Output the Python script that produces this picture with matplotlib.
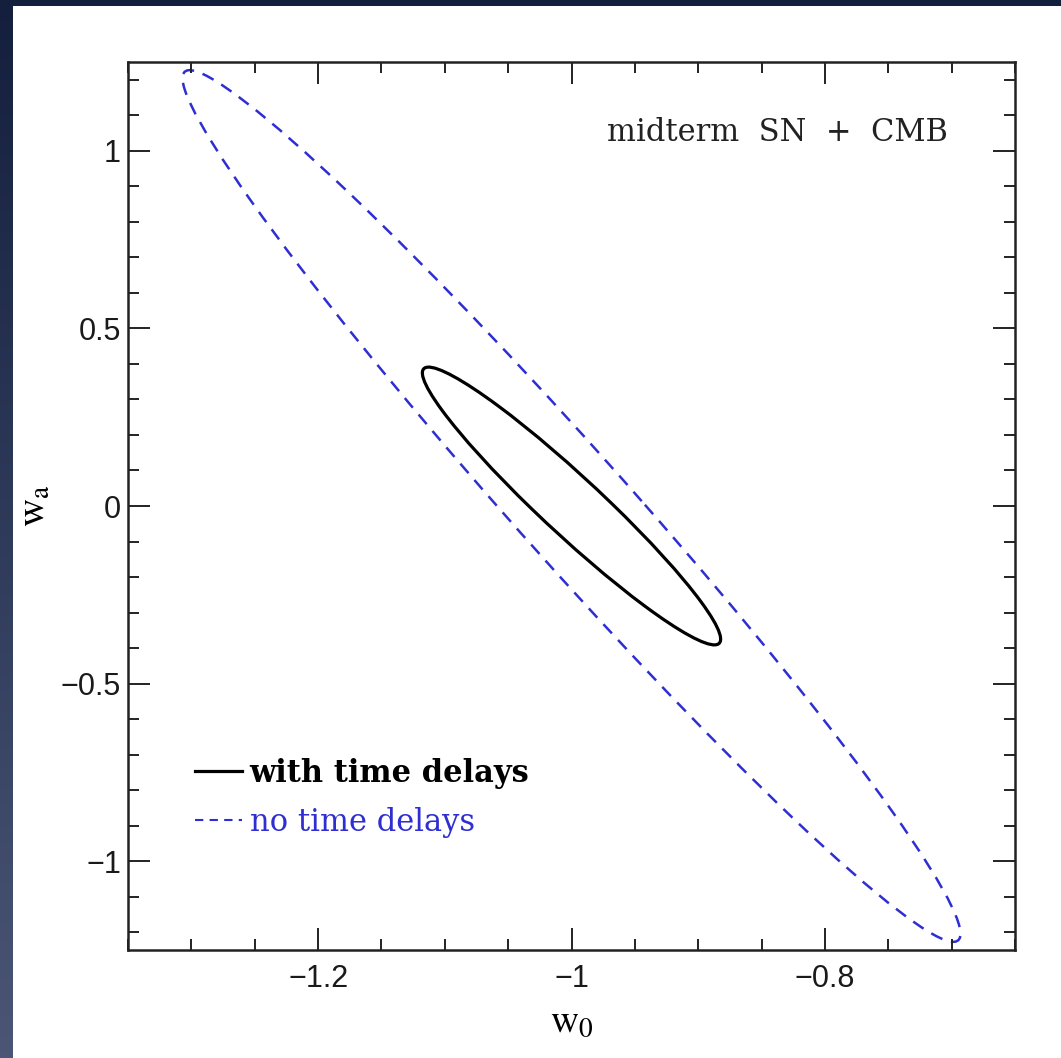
import numpy as np
import matplotlib
matplotlib.use("Agg")
import matplotlib.pyplot as plt
from matplotlib.patches import Ellipse, Rectangle
from matplotlib.lines import Line2D
from matplotlib.ticker import MultipleLocator

# ---- data ----
centre_w0 = -1.0
centre_wa = 0.0
# contour half-extents in w0 and wa, and w0-wa correlation
labels = ["with time delays", "no time delays"]
half_w0 = [0.1177, 0.307]
half_wa = [0.391, 1.227]
corr = [-0.958, -0.9815]
colors = ["black", "#2e2ed2"]
widths = [2.3, 1.8]

x_ticks = [-1.2, -1.0, -0.8]
x_ticklabels = ["\u22121.2", "\u22121", "\u22120.8"]
y_ticks = [-1.0, -0.5, 0.0, 0.5, 1.0]
y_ticklabels = ["\u22121", "\u22120.5", "0", "0.5", "1"]

plt.rcParams['mathtext.fontset'] = 'stix'

W, H = 1061, 1058
fig = plt.figure(figsize=(W / 100, H / 100), dpi=100)

# slide background gradient + white panel
bg = fig.add_axes([0, 0, 1, 1], zorder=-10)
grad = np.linspace(0, 1, 256).reshape(-1, 1)
c_top = np.array([0x13, 0x1f, 0x3d]) / 255
c_bot = np.array([0x4b, 0x56, 0x76]) / 255
img = c_top[None, None, :] * (1 - grad[..., None]) + c_bot[None, None, :] * grad[..., None]
bg.imshow(img, aspect='auto', extent=[0, 1, 0, 1], origin='upper')
bg.set_xlim(0, 1); bg.set_ylim(0, 1)
bg.axis('off')
bg.add_patch(Rectangle((13 / W, 0), 1 - 13 / W, (H - 6) / H, facecolor='white',
                       edgecolor='none', transform=bg.transAxes))

ax = fig.add_axes([128 / W, (H - 950) / H, (1015 - 128) / W, (950 - 62) / H])
ax.set_xlim(-1.35, -0.65)
ax.set_ylim(-1.25, 1.25)
ax.set_facecolor('none')

for i, (hx, hy, r, c, lw) in enumerate(zip(half_w0, half_wa, corr, colors, widths)):
    cov = np.array([[hx * hx, r * hx * hy], [r * hx * hy, hy * hy]])
    vals, vecs = np.linalg.eigh(cov)
    ang = np.degrees(np.arctan2(vecs[1, 1], vecs[0, 1]))
    e = Ellipse((centre_w0, centre_wa), 2 * np.sqrt(vals[1]), 2 * np.sqrt(vals[0]),
                angle=ang, fill=False, edgecolor=c, linewidth=lw)
    if i == 1:
        e.set_linestyle((0, (5, 3.6)))
    ax.add_patch(e)

ax.set_xticks(x_ticks)
ax.set_xticklabels(x_ticklabels)
ax.set_yticks(y_ticks)
ax.set_yticklabels(y_ticklabels)
ax.xaxis.set_minor_locator(MultipleLocator(0.05))
ax.yaxis.set_minor_locator(MultipleLocator(0.1))
ax.tick_params(which='both', direction='in', top=True, right=True, width=1.4, color='#222222')
ax.tick_params(which='major', length=16, labelsize=22)
ax.tick_params(axis='y', which='major', pad=5)
ax.tick_params(axis='x', which='major', pad=10)
ax.tick_params(which='minor', length=8)
for t in ax.get_xticklabels() + ax.get_yticklabels():
    t.set_fontfamily('Liberation Sans')
    t.set_color('#1a1a1a')
for s in ax.spines.values():
    s.set_linewidth(1.8)
    s.set_color('#222222')

ax.set_xlabel(r"$\mathrm{w}_{0}$", fontsize=28, labelpad=6)
ax.set_ylabel(r"$\mathrm{w}_{\mathrm{a}}$", fontsize=28, labelpad=6)

ax.text(0.9245, 0.911, "midterm  SN  +  CMB", transform=ax.transAxes, ha='right',
        va='baseline', fontsize=22, family='DejaVu Serif', color='#222222')

handles = [Line2D([], [], color=colors[0], lw=2.3, ls='-'),
           Line2D([], [], color=colors[1], lw=1.5, ls=(0, (4, 3)))]
leg = ax.legend(handles, labels, loc='lower left', bbox_to_anchor=(0.044, 0.095),
                frameon=False, handlelength=1.55, handletextpad=0.25, labelspacing=0.6,
                prop={'family': 'DejaVu Serif', 'size': 22})
t0, t1 = leg.get_texts()
t0.set_fontweight('bold'); t0.set_color('black')
t1.set_color(colors[1])

fig.savefig("out.png", dpi=100)
